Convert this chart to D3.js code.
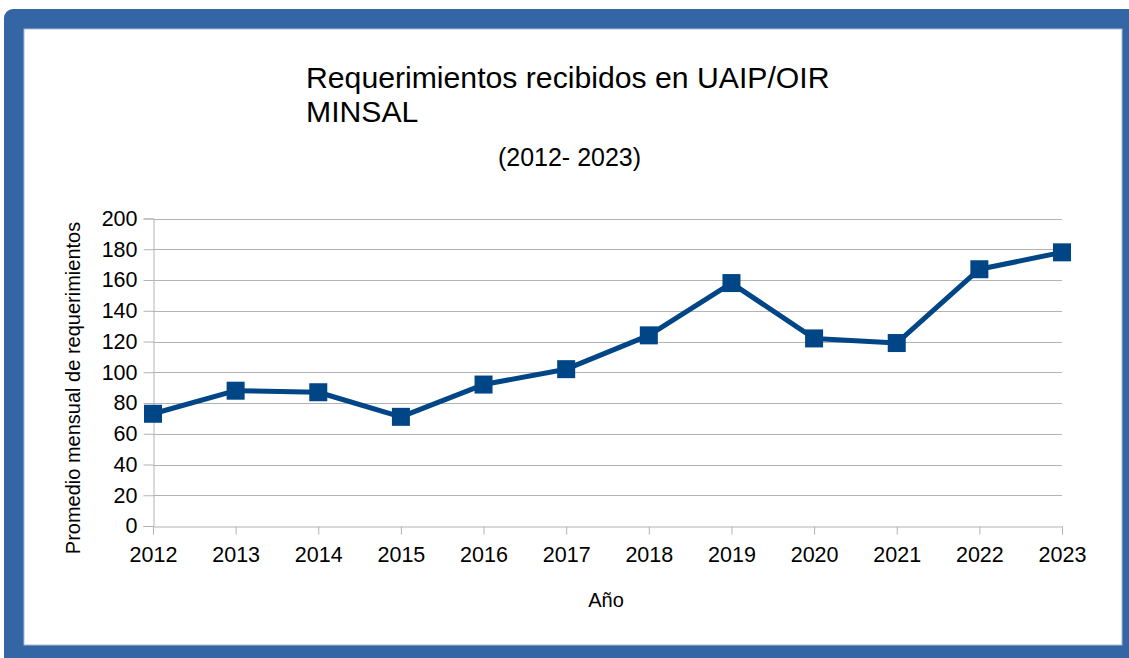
<!DOCTYPE html>
<html>
<head>
<meta charset="utf-8">
<script src="https://cdn.jsdelivr.net/npm/d3@7"></script>
<style>
html,body{margin:0;padding:0;background:#fff;overflow:hidden;}
svg{display:block;}
text{font-family:"Liberation Sans",Arial,sans-serif;fill:#000;}
</style>
</head>
<body>
<svg id="chart" width="1129" height="658"></svg>
<script>
const years = ["2012","2013","2014","2015","2016","2017","2018","2019","2020","2021","2022","2023"];
const values = [73, 88, 87, 71, 92, 102, 124, 158, 122, 119, 167, 178];
const yTicks = [0,20,40,60,80,100,120,140,160,180,200];
const titleLines = ["Requerimientos recibidos en UAIP/OIR","MINSAL"];
const subtitle = "(2012- 2023)";
const yTitle = "Promedio mensual de requerimientos";
const xTitle = "Año";

const svg = d3.select("#chart");
const W = 1129, H = 658;

// frame
svg.append("rect").attr("x",4).attr("y",9).attr("width",W+20).attr("height",H+20)
  .attr("rx",9).attr("fill","#3465a4");
svg.append("rect").attr("x",24).attr("y",29).attr("width",1098).attr("height",616)
  .attr("fill","#fff").attr("stroke","#a9bcd6").attr("stroke-width",1);

const x = d3.scalePoint().domain(years).range([153,1062]);
const y = d3.scaleLinear().domain([0,200]).range([526,218.5]);

// gridlines
svg.append("g").selectAll("line").data(yTicks.filter(d=>d>0)).join("line")
  .attr("x1",153).attr("x2",1062)
  .attr("y1",d=>Math.round(y(d))+0.5).attr("y2",d=>Math.round(y(d))+0.5)
  .attr("stroke","#b3b3b3").attr("stroke-width",1);

// y axis
const yAxis = svg.append("g").attr("transform","translate(153.5,0)")
  .call(d3.axisLeft(y).tickValues(yTicks).tickSize(10).tickPadding(6).tickFormat(d3.format("d")));
yAxis.select(".domain").attr("stroke","#b3b3b3");
yAxis.selectAll(".tick line").attr("stroke","#b3b3b3");
yAxis.selectAll(".tick text").style("font-size","21.5px").style("font-family","Liberation Sans, Arial, sans-serif").attr("fill","#000");

// x axis
const xAxis = svg.append("g").attr("transform","translate(0,526.5)")
  .call(d3.axisBottom(x).tickSize(8).tickPadding(12));
xAxis.select(".domain").attr("stroke","#b3b3b3");
xAxis.selectAll(".tick line").attr("stroke","#b3b3b3");
xAxis.selectAll(".tick text").style("font-size","21.5px").style("font-family","Liberation Sans, Arial, sans-serif").attr("fill","#000");

// line
const line = d3.line().x((d,i)=>x(years[i])).y(d=>y(d));
svg.append("path").datum(values).attr("d",line)
  .attr("fill","none").attr("stroke","#004586").attr("stroke-width",5).attr("stroke-linejoin","round");

// markers
const ms = 18;
svg.append("g").selectAll("rect").data(values).join("rect")
  .attr("x",(d,i)=>x(years[i])-ms/2).attr("y",d=>y(d)-ms/2)
  .attr("width",ms).attr("height",ms).attr("fill","#004586");

// titles
svg.append("text").attr("x",306).attr("y",88).style("font-size","30.2px").text(titleLines[0]);
svg.append("text").attr("x",306).attr("y",122).style("font-size","30.2px").text(titleLines[1]);
svg.append("text").attr("x",569.5).attr("y",166).attr("text-anchor","middle").style("font-size","25px").text(subtitle);

svg.append("text").attr("transform","translate(80,388) rotate(-90)").attr("text-anchor","middle")
  .style("font-size","20px").text(yTitle);
svg.append("text").attr("x",606).attr("y",607).attr("text-anchor","middle").style("font-size","20px").text(xTitle);
</script>
</body>
</html>
